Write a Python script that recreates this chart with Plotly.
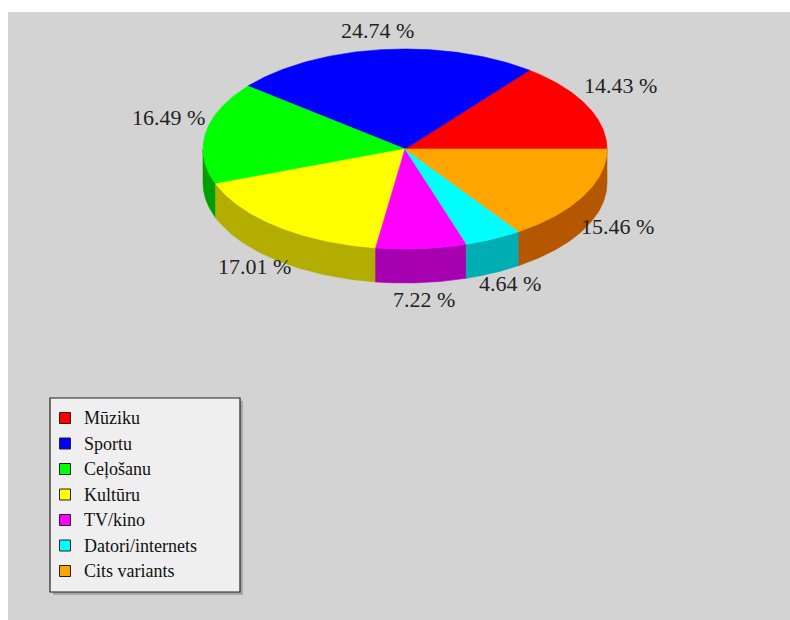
import numpy as np
import plotly.graph_objects as go

# ---- data ----
categories = ["Mūziku", "Sportu", "Ceļošanu", "Kultūru", "TV/kino",
              "Datori/internets", "Cits variants"]
percent = [14.43, 24.74, 16.49, 17.01, 7.22, 4.64, 15.46]
top_colors = ["#ff0000", "#0000ff", "#00ff00", "#ffff00", "#ff00ff",
              "#00ffff", "#ffa500"]
side_colors = ["#b00000", "#0000b0", "#009e00", "#b3ad00", "#a600b0",
               "#00adb3", "#b55700"]

# ---- pie geometry (pixel space of the plot) ----
CX, CY = 405.0, 149.0     # centre of the top face
RX, RY = 202.0, 100.0     # ellipse half-axes
DEPTH = 34.0              # thickness of the pie
FONT = "Liberation Serif, Times New Roman, serif"

total = float(sum(percent))
bounds = np.concatenate([[0.0], np.cumsum(percent) / total * 360.0])


def rim(t_deg, dy=0.0):
    t = np.radians(t_deg)
    return CX + RX * np.cos(t), CY - RY * np.sin(t) + dy


fig = go.Figure()

# front walls (visible between 180 and 360 degrees)
for i, name in enumerate(categories):
    lo, hi = max(bounds[i], 180.0), min(bounds[i + 1], 360.0)
    if hi <= lo:
        continue
    t = np.linspace(lo, hi, 80)
    xt, yt = rim(t)
    xb, yb = rim(t[::-1], DEPTH)
    fig.add_trace(go.Scatter(
        x=np.concatenate([xt, xb, xt[:1]]), y=np.concatenate([yt, yb, yt[:1]]),
        mode="lines", fill="toself", fillcolor=side_colors[i],
        line=dict(color=side_colors[i], width=0.6),
        hoverinfo="skip", showlegend=False))

# top face wedges
for i, name in enumerate(categories):
    t = np.linspace(bounds[i], bounds[i + 1], 120)
    xt, yt = rim(t)
    fig.add_trace(go.Scatter(
        x=np.concatenate([[CX], xt, [CX]]), y=np.concatenate([[CY], yt, [CY]]),
        mode="lines", fill="toself", fillcolor=top_colors[i],
        line=dict(color=top_colors[i], width=0.6),
        name=name, hoverinfo="name", showlegend=False))

# percentage labels around the pie
for i, v in enumerate(percent):
    mid = np.radians((bounds[i] + bounds[i + 1]) / 2.0)
    lx = CX + 240.0 * np.cos(mid)
    ly = CY - 118.0 * np.sin(mid) + (DEPTH if np.sin(mid) < 0 else 0.0) \
        - 13.0 * abs(np.cos(mid))
    fig.add_annotation(x=lx, y=ly, text=f"{v:.2f} %", showarrow=False,
                       xanchor="center", yanchor="middle",
                       font=dict(family=FONT, size=22, color="#222222"))

# ---- legend box ----
LX0, LY0, LX1, LY1 = 50, 398, 240, 592
fig.add_shape(type="rect", x0=LX0 + 3, y0=LY0 + 3, x1=LX1 + 3, y1=LY1 + 3,
              fillcolor="#a9a9a9", line=dict(width=0), layer="below")
fig.add_shape(type="rect", x0=LX0, y0=LY0, x1=LX1, y1=LY1,
              fillcolor="#efefef", line=dict(color="#222222", width=1.2),
              layer="below")
row_y = [LY0 + 20 + 25.5 * k for k in range(len(categories))]
fig.add_trace(go.Scatter(
    x=[LX0 + 15] * len(categories), y=row_y, mode="markers",
    marker=dict(symbol="square", size=11, color=top_colors,
                line=dict(color="#222222", width=1)),
    hoverinfo="skip", showlegend=False))
for k, name in enumerate(categories):
    fig.add_annotation(x=LX0 + 32, y=row_y[k], text=name, showarrow=False,
                       xanchor="left", yanchor="middle",
                       font=dict(family=FONT, size=18, color="#111111"))

fig.update_layout(
    width=790, height=620,
    margin=dict(l=8, t=12, r=0, b=0),
    paper_bgcolor="#ffffff", plot_bgcolor="#d3d3d3",
    xaxis=dict(range=[8, 790], visible=False, fixedrange=True),
    yaxis=dict(range=[620, 12], visible=False, fixedrange=True),
    showlegend=False,
)

fig.write_html("out.html")
